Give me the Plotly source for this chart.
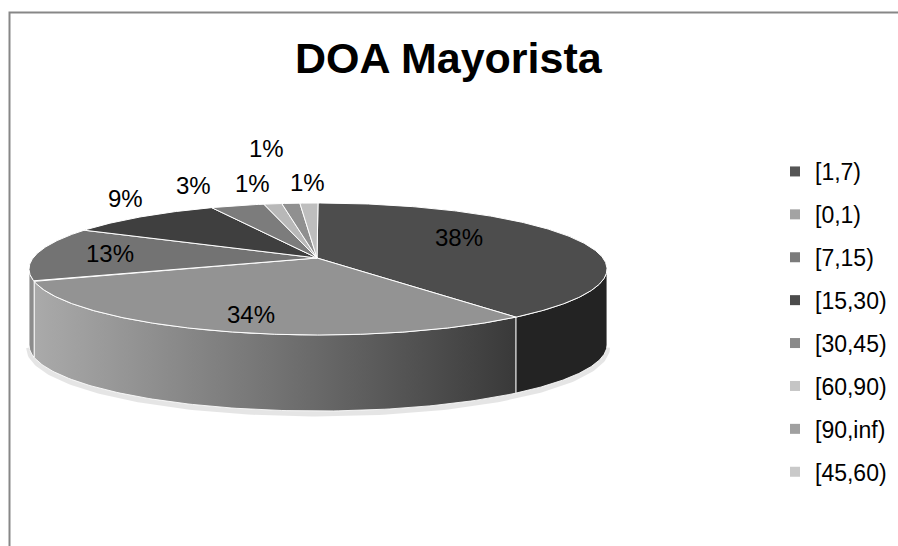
import numpy as np
import plotly.graph_objects as go

# ---- data -------------------------------------------------------------
categories = ["[1,7)", "[0,1)", "[7,15)", "[15,30)", "[30,45)", "[60,90)", "[90,inf)", "[45,60)"]
shares = [38, 34, 13, 9, 3, 1, 1, 1]  # percent

# ---- styling ------------------------------------------------------------
top_colors = ["#4d4d4d", "#939393", "#737373", "#3f3f3f", "#7c7c7c", "#b8b8b8", "#909090", "#bebebe"]
legend_colors = ["#555555", "#a3a3a3", "#7b7b7b", "#4b4b4b", "#8a8a8a", "#c5c5c5", "#a0a0a0", "#c9c9c9"]
side_styles = {
    0: dict(fillcolor="#232323"),
    1: dict(fillgradient=dict(type="horizontal", colorscale=[[0, "#aaaaaa"], [0.5, "#737373"], [1, "#393939"]])),
    2: dict(fillcolor="#8c8c8c"),
}
# label placement: radial factors (x, y) relative to the ellipse radii
label_radius = [(0.525, 1.29), (0.75, 0.717), (0.739, 1.11), (1.084, 1.352),
                (1.538, 1.31), (1.438, 1.319), (1.91, 1.84), (1.21, 1.311)]

FONT = "Liberation Sans, Arial, sans-serif"
W, H = 898, 546
cx, cy = 318.0, 269.0   # centre of the top face ellipse (pixel coords)
rx, ry = 289.0, 66.0    # radii of the top face ellipse
apex = (317.0, 258.0)   # perspective-shifted meeting point of the slices
depth = 76.0            # thickness of the pie


def ell(theta_deg, dy=0.0):
    t = np.radians(theta_deg)
    return cx + rx * np.cos(t), cy - ry * np.sin(t) + dy


fig = go.Figure()

# slice angles: start at 12 o'clock, run clockwise
total = float(sum(shares))
bounds = [90.0]
for s in shares:
    bounds.append(bounds[-1] - s / total * 360.0)

# soft shadow under the front rim
sh_t = np.linspace(-180, 0, 200)
sx, sy = ell(sh_t, depth + 2.5)
fig.add_trace(go.Scatter(x=sx, y=sy, mode="lines", line=dict(color="rgba(0,0,0,0.10)", width=6),
                         hoverinfo="skip", showlegend=False))

# side walls of the visible (front) half
for i, (a0, a1) in enumerate(zip(bounds[:-1], bounds[1:])):
    hi, lo = min(a0, 0.0), max(a1, -180.0)
    if hi <= lo:
        continue
    t = np.linspace(hi, lo, 120)
    x_top, y_top = ell(t)
    x_bot, y_bot = ell(t[::-1], depth)
    xs = np.concatenate([x_top, x_bot, x_top[:1]])
    ys = np.concatenate([y_top, y_bot, y_top[:1]])
    style = side_styles.get(i, dict(fillcolor=top_colors[i]))
    fig.add_trace(go.Scatter(x=xs, y=ys, mode="lines", fill="toself",
                             line=dict(color="rgba(255,255,255,0.85)", width=1),
                             hoverinfo="skip", showlegend=False, legendgroup=categories[i], **style))

# top face
for i, (a0, a1) in enumerate(zip(bounds[:-1], bounds[1:])):
    n = max(8, int(abs(a0 - a1) * 2))
    t = np.linspace(a0, a1, n)
    ax, ay = ell(t)
    xs = np.concatenate([[apex[0]], ax, [apex[0]]])
    ys = np.concatenate([[apex[1]], ay, [apex[1]]])
    fig.add_trace(go.Scatter(x=xs, y=ys, mode="lines", fill="toself", fillcolor=top_colors[i],
                             line=dict(color="white", width=1),
                             name=categories[i], legendgroup=categories[i],
                             hovertemplate=f"{categories[i]}: {shares[i]}%<extra></extra>",
                             showlegend=False))

# percentage labels
for i, (a0, a1) in enumerate(zip(bounds[:-1], bounds[1:])):
    mid = np.radians((a0 + a1) / 2)
    fx, fy = label_radius[i]
    lx = cx + fx * rx * np.cos(mid)
    ly = cy - fy * ry * np.sin(mid)
    fig.add_annotation(x=lx, y=ly, text=f"{shares[i]}%", showarrow=False,
                       xanchor="center", yanchor="middle",
                       font=dict(family=FONT, size=24, color="#000000"))

# legend entries
for i, c in enumerate(categories):
    fig.add_trace(go.Scatter(x=[None], y=[None], mode="markers", name=c, legendgroup=c,
                             marker=dict(symbol="square", size=10, color=legend_colors[i]),
                             showlegend=True))

# chart frame
fig.add_shape(type="path", path=f"M 9.5 {H} L 9.5 12.5 L {W} 12.5",
              line=dict(color="#878787", width=2), xref="x", yref="y")

fig.add_annotation(x=449, y=58, text="DOA Mayorista", showarrow=False,
                   xanchor="center", yanchor="middle",
                   font=dict(family=FONT, size=43, color="#000000", weight="bold"))

fig.update_layout(
    width=W, height=H,
    margin=dict(l=0, r=0, t=0, b=0),
    paper_bgcolor="white", plot_bgcolor="white",
    xaxis=dict(range=[0, W], visible=False, fixedrange=True),
    yaxis=dict(range=[H, 0], visible=False, fixedrange=True),
    showlegend=True,
    legend=dict(x=775 / W, y=1 - 150 / H, xanchor="left", yanchor="top",
                font=dict(family=FONT, size=23, color="#000000"),
                tracegroupgap=10, bgcolor="rgba(0,0,0,0)", itemclick=False, itemdoubleclick=False),
)

fig.write_html("out.html")
